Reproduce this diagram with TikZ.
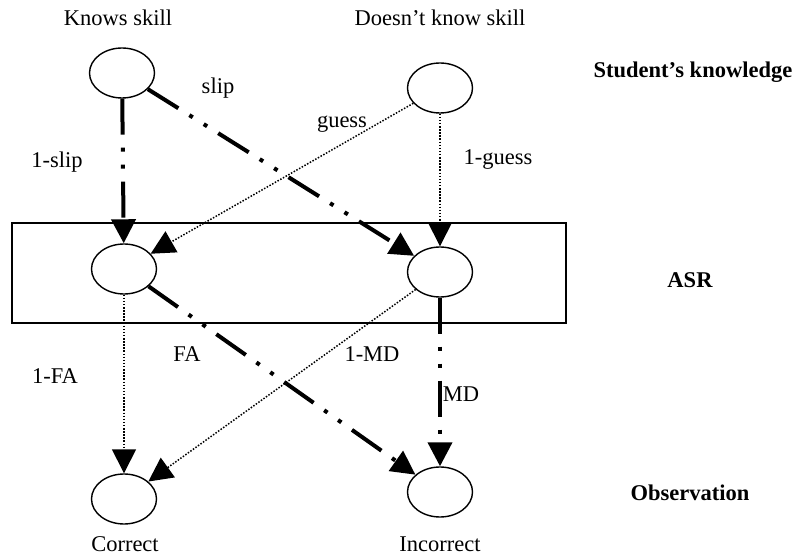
\documentclass[tikz,border=0pt]{standalone}
\usepackage{fontspec}
\setmainfont{Liberation Serif}
\usetikzlibrary{arrows.meta,shapes.geometric}

\begin{document}
\begin{tikzpicture}[
  x=1pt,
  y=-1pt,
  line join=miter,
  state/.style={
    draw=black,
    ellipse,
    line width=1.4pt,
    minimum width=65pt,
    minimum height=50pt,
    inner sep=0pt
  },
  strong/.style={
    draw=black,
    line width=4pt,
    dash pattern=on 36pt off 13pt on 4pt off 13pt on 4pt off 13pt,
    -{Triangle[length=24pt,width=24pt]}
  },
  weak/.style={
    draw=black,
    line width=1.5pt,
    dash pattern=on 1.5pt off 1.6pt,
    -{Triangle[length=24pt,width=24pt]}
  },
  label/.style={
    font=\fontsize{22.5}{26}\selectfont
  },
  level/.style={
    font=\fontsize{22.5}{26}\selectfont\bfseries
  }
]

  \path[use as bounding box]
    (0,0) rectangle (796,556);

  % ASR box
  \draw[line width=1.4pt]
    (12,223) rectangle (566,323);

  % states
  \node[state] (know) at (122,73) {};
  \node[state] (dont) at (440,88) {};
  \node[state] (asrk) at (124,269) {};
  \node[state] (asrn) at (440,272) {};
  \node[state] (corr) at (124,499) {};
  \node[state] (inco) at (440,492) {};

  % state names
  \node[label] (knowtxt) at (118,18) {Knows skill};
  \node[label] (donttxt) at (440,18) {Doesn’t know skill};
  \node[label] (corrtxt) at (125,544) {Correct};
  \node[label] (incotxt) at (440,544) {Incorrect};

  % levels
  \node[level] (lvknow) at (693,72) {Student’s knowledge};
  \node[level] (lvasr) at (690,280) {ASR};
  \node[level] (lvobs) at (690,493) {Observation};

  % knowledge -> ASR
  \draw[strong] (know) -- (asrk);
  \draw[strong] (know) -- (asrn);
  \draw[weak] (dont) -- (asrk);
  \draw[weak] (dont) -- (asrn);

  % ASR -> observation
  \draw[weak] (asrk) -- (corr);
  \draw[strong] (asrk) -- (inco);
  \draw[weak] (asrn) -- (corr);
  \draw[strong] (asrn) -- (inco);

  % probabilities
  \node[label] (slip) at (218,88) {slip};
  \node[label] (noslip) at (57,162) {1-slip};
  \node[label] (guess) at (342,124) {guess};
  \node[label] (noguess) at (498,160) {1-guess};
  \node[label] (fa) at (187,354) {FA};
  \node[label] (nomd) at (372,354) {1-MD};
  \node[label] (nofa) at (55,376) {1-FA};
  \node[label] (md) at (461,394) {MD};

\end{tikzpicture}
\end{document}
